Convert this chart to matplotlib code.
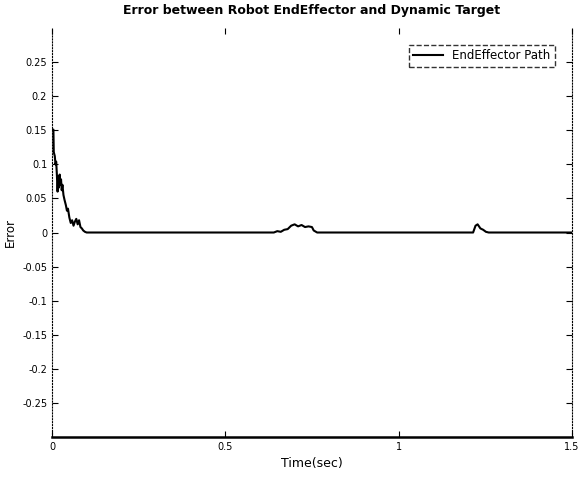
import numpy as np
import matplotlib.pyplot as plt

# error trace (time in sec, error)
t_vals = [0.0, 0.004, 0.005, 0.008, 0.010, 0.012, 0.014, 0.016, 0.018, 0.020,
          0.022, 0.024, 0.026, 0.028, 0.030, 0.033, 0.036, 0.040, 0.043, 0.046,
          0.050, 0.054, 0.058, 0.062, 0.066, 0.070, 0.074, 0.078, 0.082, 0.086,
          0.090, 0.095, 0.100, 0.640, 0.650, 0.660, 0.670, 0.680, 0.690, 0.700,
          0.710, 0.720, 0.730, 0.740, 0.750, 0.755, 0.765, 1.215, 1.222, 1.228,
          1.236, 1.244, 1.252, 1.260, 1.5]
err_vals = [0.151, 0.151, 0.118, 0.112, 0.100, 0.104, 0.085, 0.060, 0.082, 0.066,
            0.085, 0.070, 0.078, 0.062, 0.070, 0.055, 0.048, 0.040, 0.032, 0.035,
            0.022, 0.014, 0.018, 0.010, 0.016, 0.020, 0.012, 0.018, 0.008, 0.006,
            0.003, 0.001, 0.0, 0.0, 0.002, 0.001, 0.004, 0.005, 0.010, 0.012,
            0.009, 0.011, 0.008, 0.009, 0.008, 0.003, 0.0, 0.0, 0.010, 0.012,
            0.006, 0.004, 0.001, 0.0, 0.0]
y_ticks = [-0.25, -0.2, -0.15, -0.1, -0.05, 0, 0.05, 0.1, 0.15, 0.2, 0.25]
y_labels = ['-0.25', '-0.2', '-0.15', '-0.1', '-0.05', '0', '0.05', '0.1', '0.15', '0.2', '0.25']

fig = plt.figure(figsize=(5.8, 4.79), dpi=100)
ax = fig.add_axes([0.0897, 0.0877, 0.8963, 0.8538])

ax.plot(t_vals, err_vals, color='black', lw=1.5, label='EndEffector Path')

ax.set_xlim(0, 1.5)
ax.set_ylim(-0.3, 0.3)
ax.set_xticks([0, 0.5, 1, 1.5])
ax.set_xticklabels(['0', '0.5', '1', '1.5'])
ax.set_yticks(y_ticks)
ax.set_yticklabels(y_labels)
ax.tick_params(direction='in', labelsize=7, length=4, top=True, right=True)

ax.spines['top'].set_visible(False)
ax.spines['left'].set_linestyle(':')
ax.spines['right'].set_linestyle(':')
ax.spines['bottom'].set_linewidth(1.8)

ax.set_title('Error between Robot EndEffector and Dynamic Target', fontsize=9, fontweight='bold', pad=10)
ax.set_xlabel('Time(sec)', fontsize=9)
ax.set_ylabel('Error', fontsize=8.5)

leg = ax.legend(loc='upper right', fontsize=8.5, fancybox=False, edgecolor='black',
                handlelength=2.5, borderaxespad=1.4)
leg.get_frame().set_linestyle('--')

fig.savefig('out.png', dpi=100)
